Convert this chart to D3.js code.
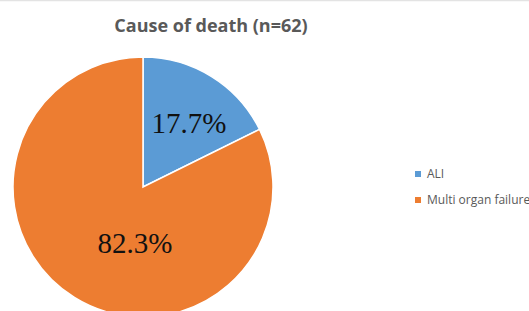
<!DOCTYPE html>
<html>
<head>
<meta charset="utf-8">
<script src="https://cdn.jsdelivr.net/npm/d3@7"></script>
<style>
  body { margin: 0; background: #fff; }
  svg { display: block; }
</style>
</head>
<body>
<svg class="pie-svg" width="529" height="311"></svg>
<script>
// données du graphique
var causes = ["ALI", "Multi organ failure"];
var pourcentages = [17.7, 82.3];
var couleurs = ["#5B9BD5", "#ED7D31"];
var titre = "Cause of death (n=62)";

var svg = d3.select(".pie-svg");

// fine bordure grise en haut
svg.append("line")
    .attr("x1", 0).attr("x2", 529)
    .attr("y1", 0.5).attr("y2", 0.5)
    .attr("stroke", "#e3e3e3")
    .attr("stroke-width", 1.5);

// titre
svg.append("text")
    .attr("x", 211)
    .attr("y", 32)
    .attr("text-anchor", "middle")
    .attr("font-family", "'Open Sans', sans-serif")
    .attr("font-weight", "bold")
    .attr("font-size", 18)
    .attr("fill", "#595959")
    .text(titre);

var data = causes.map((c, i) => ({ name: c, value: pourcentages[i] }));

var color = d3.scaleOrdinal().domain(causes).range(couleurs);

var radius = 130;
var pie = d3.pie().value(d => d.value).sort(null);
var arc = d3.arc().innerRadius(0).outerRadius(radius);

var g = svg.append("g").attr("transform", "translate(143,187)");

var arcs = g.selectAll("g.slice")
    .data(pie(data))
    .enter()
    .append("g")
    .attr("class", "slice");

arcs.append("path")
    .attr("d", arc)
    .attr("fill", d => color(d.data.name))
    .attr("stroke", "#fff")
    .attr("stroke-width", 1.5);

// étiquettes des pourcentages (placées à la main comme dans l'original)
var labelPos = [[46, -54], [-8, 66]];
arcs.append("text")
    .attr("x", (d, i) => labelPos[i][0])
    .attr("y", (d, i) => labelPos[i][1])
    .attr("text-anchor", "middle")
    .attr("font-family", "'Liberation Serif', 'Times New Roman', serif")
    .attr("font-size", 29)
    .attr("fill", "#111")
    .text(d => d.data.value.toFixed(1) + "%");

// légende
var legend = svg.append("g").attr("transform", "translate(415,174)");
var items = legend.selectAll("g")
    .data(causes)
    .enter()
    .append("g")
    .attr("transform", (d, i) => `translate(0, ${i * 26})`);

items.append("rect")
    .attr("x", 0)
    .attr("y", -3)
    .attr("width", 6)
    .attr("height", 6)
    .attr("fill", d => color(d));

items.append("text")
    .attr("x", 12)
    .attr("y", 0)
    .attr("dy", "0.35em")
    .attr("font-family", "'Open Sans', sans-serif")
    .attr("font-size", 12)
    .attr("fill", "#595959")
    .text(d => d);
</script>
</body>
</html>
